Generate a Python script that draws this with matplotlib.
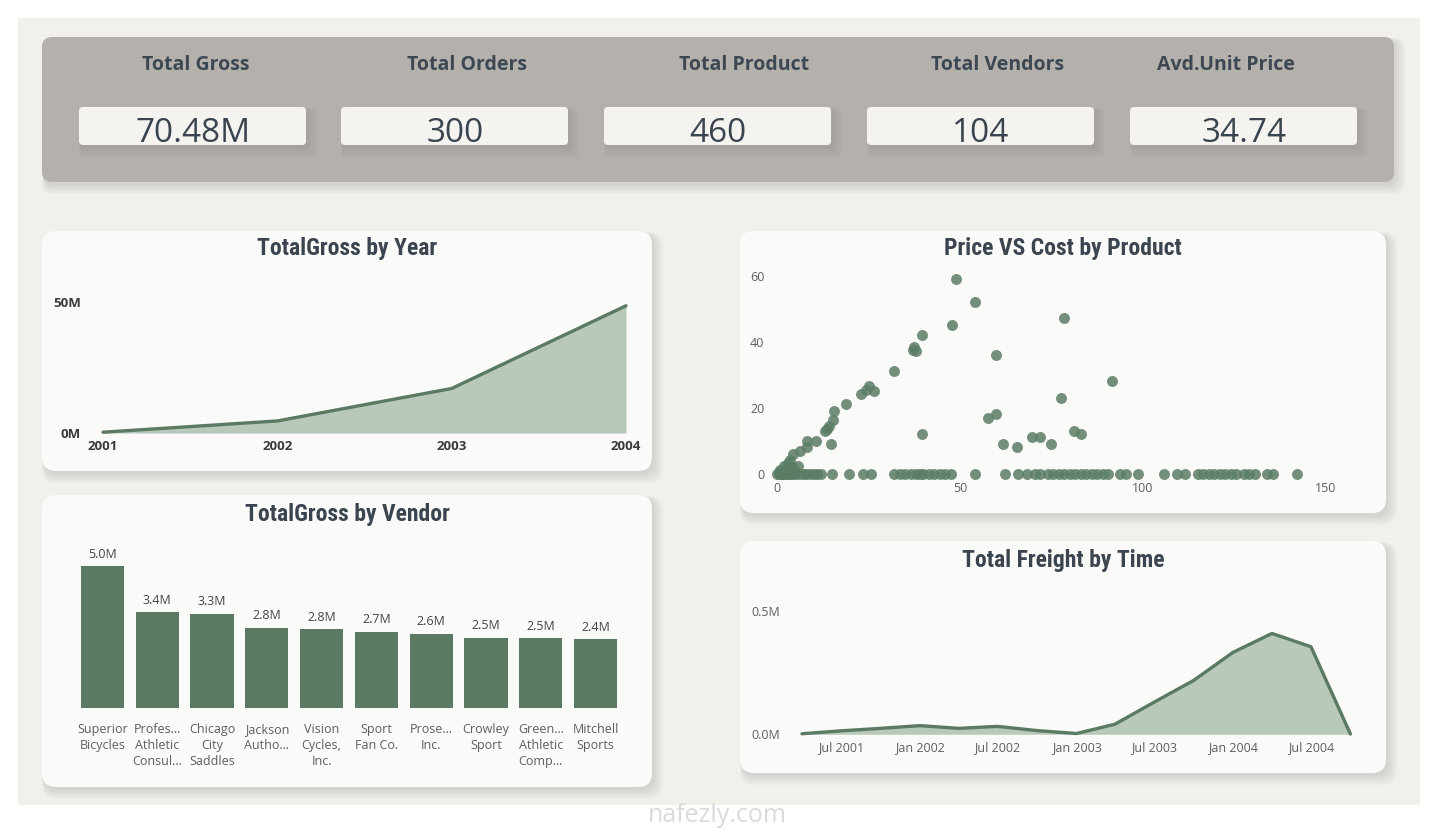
import numpy as np
import matplotlib.pyplot as plt
import matplotlib.dates as mdates
from matplotlib.patches import FancyBboxPatch
from matplotlib import font_manager
from datetime import date, timedelta

W, H = 1436, 831

kpi_titles = ['Total Gross', 'Total Orders', 'Total Product', 'Total Vendors', 'Avd.Unit Price']
kpi_values = ['70.48M', '300', '460', '104', '34.74']

years = [2001, 2002, 2003, 2004]
gross_by_year = [0.3, 4.6, 17.0, 48.6]  # millions

vendors = ['Superior\nBicycles', 'Profes…\nAthletic\nConsul…', 'Chicago\nCity\nSaddles',
           'Jackson\nAutho…', 'Vision\nCycles,\nInc.', 'Sport\nFan Co.', 'Prose…\nInc.',
           'Crowley\nSport', 'Green…\nAthletic\nComp…', 'Mitchell\nSports']
vendor_gross = [5.0, 3.38, 3.33, 2.82, 2.78, 2.68, 2.61, 2.47, 2.46, 2.43]  # millions

# price vs cost points
pts_x = [48.8, 54.0, 47.8, 39.7, 37.5, 38.0, 37.3, 32.1, 59.8, 78.5, 91.6, 77.7,
         25.2, 26.5, 23.0, 24.3, 18.9, 15.6, 15.3, 14.2, 13.0, 13.6, 14.7, 39.7,
         57.7, 59.8, 61.7, 65.7, 69.8, 71.9, 75.0, 81.1, 83.0, 10.6, 8.3, 8.3,
         6.3, 4.4, 3.5, 2.9, 1.8, 0.9, 5.7, 4.1, 4.7, 0.5, 2.2, 3.0]
pts_y = [59.2, 52.2, 45.2, 42.2, 38.5, 37.2, 37.7, 31.1, 36.2, 47.2, 28.1, 23.1,
         26.6, 25.1, 24.2, 25.4, 21.2, 19.2, 16.3, 14.4, 13.1, 13.6, 9.1, 12.1,
         17.0, 18.2, 9.1, 8.1, 11.1, 11.1, 9.1, 13.1, 12.1, 10.1, 10.1, 8.1,
         7.1, 6.1, 4.3, 3.3, 2.3, 1.3, 2.3, 2.1, 1.3, 0.6, 1.0, 2.0]
zero_x = [0, 0.5, 1, 1.5, 2, 2.5, 3, 3.5, 4, 5, 6, 7, 8, 9, 10, 11, 12, 15, 19.8,
          23.6, 25.6, 32, 33.5, 35, 36.5, 38, 39, 40, 41.5, 43, 44.5, 46, 47.5, 54,
          62.4, 65.9, 68.4, 70.5, 72, 74, 75.5, 77, 78.5, 80, 81.5, 83, 84.5, 86,
          87.5, 89, 90.5, 93.7, 95.5, 98.7, 105.8, 109.4, 111.4, 115, 116.5, 118,
          119.5, 121, 122.5, 124, 125.5, 127.5, 129, 130.5, 134, 135.5, 142]

freight_dates = [date(2001, 4, 1), date(2001, 7, 1), date(2001, 10, 1), date(2002, 1, 1),
                 date(2002, 4, 1), date(2002, 7, 1), date(2002, 10, 1), date(2003, 1, 1),
                 date(2003, 4, 1), date(2003, 7, 1), date(2003, 10, 1), date(2004, 1, 1),
                 date(2004, 4, 1), date(2004, 7, 1), date(2004, 10, 1)]
freight = [0.002, 0.014, 0.024, 0.035, 0.024, 0.032, 0.015, 0.003,
           0.041, 0.130, 0.218, 0.332, 0.409, 0.355, 0.001]  # millions

GREEN = '#5B7A63'
FILL = '#B8C8BB'
TITLE_C = '#3B4550'
TICK_C = '#605E5C'
BODY_FONT = ['Open Sans', 'DejaVu Sans']

# narrow bold face for the visual titles, whichever is installed
installed = {f.name for f in font_manager.fontManager.ttflist}
TITLE_FONT = [f for f in ['Roboto Condensed', 'Liberation Sans Narrow', 'Roboto'] if f in installed]
TITLE_FONT = TITLE_FONT + ['DejaVu Sans']

plt.rcParams['font.family'] = BODY_FONT

fig = plt.figure(figsize=(W / 100, H / 100), dpi=100, facecolor='white')
bg = fig.add_axes([0, 0, 1, 1], zorder=0)
bg.set_xlim(0, W)
bg.set_ylim(H, 0)
bg.axis('off')


def box(x0, y0, x1, y1, color, r=12, shadow=True):
    if shadow:
        for k in range(7):
            bg.add_patch(FancyBboxPatch((x0 + 2 + k * 0.6, y0 + 3 + k * 0.6), x1 - x0, y1 - y0,
                                        boxstyle='round,pad=%g,rounding_size=%g' % (k * 0.9, r),
                                        fc='#7a7a7a', ec='none', alpha=0.035))
    bg.add_patch(FancyBboxPatch((x0, y0), x1 - x0, y1 - y0,
                                boxstyle='round,pad=0,rounding_size=%g' % r,
                                fc=color, ec='none'))


bg.add_patch(FancyBboxPatch((18, 18), 1402, 787, boxstyle='square,pad=0', fc='#F2F0EB', ec='none'))

# KPI strip
box(42, 37, 1394, 182, '#B4B0AC', r=10)
card_x = [79, 341, 604, 867, 1130]
title_cx = [196, 467, 744, 998, 1226]
for i in range(5):
    box(card_x[i], 107, card_x[i] + 227, 145, '#F5F3EF', r=4)
    bg.text(title_cx[i], 65, kpi_titles[i], ha='center', va='center', fontsize=14,
            fontweight='bold', color='#3D4852')
    bg.text(card_x[i] + 114, 133, kpi_values[i], ha='center', va='center', fontsize=24,
            color='#3A444E')

# chart panels
panels = [(42, 231, 652, 471), (42, 495, 652, 787), (740, 231, 1386, 513), (740, 541, 1386, 773)]
titles = ['TotalGross by Year', 'TotalGross by Vendor', 'Price VS Cost by Product', 'Total Freight by Time']
title_y = [249, 514, 249, 560]
for (x0, y0, x1, y1), t, ty in zip(panels, titles, title_y):
    box(x0, y0, x1, y1, '#FAFAF8', r=14)
    bg.text((x0 + x1) / 2, ty, t, ha='center', va='center', fontsize=17, fontweight='bold',
            color=TITLE_C, family=TITLE_FONT)

bg.text(717, 815, 'nafezly.com', ha='center', va='center', fontsize=18, color='#DADADA')


def px_axes(x0, y0, x1, y1):
    a = fig.add_axes([x0 / W, 1 - y1 / H, (x1 - x0) / W, (y1 - y0) / H], zorder=2)
    a.set_facecolor('none')
    for s in a.spines.values():
        s.set_visible(False)
    a.tick_params(length=0)
    return a


# TotalGross by Year
ax1 = px_axes(103, 289, 626, 433)
ax1.fill_between(years, gross_by_year, 0, color=FILL, lw=0)
ax1.plot(years, gross_by_year, color=GREEN, lw=2.4, clip_on=False, solid_capstyle='round')
ax1.set_xlim(2001, 2004)
ax1.set_ylim(0, 55)
ax1.set_xticks(years)
ax1.set_xticklabels([str(y) for y in years], fontweight='bold', fontsize=9.5, color='#3A3A3A')
ax1.set_yticks([0, 50])
ax1.set_yticklabels(['0M', '50M'], fontweight='bold', fontsize=9.5, color='#3A3A3A')
ax1.tick_params(axis='x', pad=5)
ax1.tick_params(axis='y', pad=16)

# TotalGross by Vendor
ax2 = px_axes(75, 552, 623, 708)
xs = np.arange(len(vendors))
ax2.bar(xs, vendor_gross, width=0.785, color=GREEN)
for x, v in zip(xs, vendor_gross):
    ax2.annotate('%.1fM' % v, (x, v), xytext=(0, 4), textcoords='offset points',
                 ha='center', va='bottom', fontsize=9, color='#444444')
ax2.set_xlim(-0.5, len(vendors) - 0.5)
ax2.set_ylim(0, 5.5)
ax2.set_yticks([])
ax2.set_xticks(xs)
ax2.set_xticklabels(vendors, fontsize=9, color=TICK_C, linespacing=1.3, va='top')
ax2.tick_params(axis='x', pad=11)

# Price VS Cost by Product
ax3 = px_axes(770, 268, 1360, 478)
ax3.scatter(pts_x + zero_x, pts_y + [0] * len(zero_x), s=62, color='#5B7D66',
            alpha=0.85, lw=0, clip_on=False)
ax3.set_xlim(-1.9, 159.3)
ax3.set_ylim(-1.2, 62.4)
ax3.set_xticks([0, 50, 100, 150])
ax3.set_yticks([0, 20, 40, 60])
ax3.tick_params(labelsize=9, labelcolor=TICK_C)
ax3.tick_params(axis='x', pad=3)
ax3.tick_params(axis='y', pad=4)

# Total Freight by Time
ax4 = px_axes(790, 600, 1362, 736)
ax4.fill_between(freight_dates, freight, 0, color=FILL, lw=0)
ax4.plot(freight_dates, freight, color=GREEN, lw=2.4, clip_on=False, solid_capstyle='round')
ax4.set_xlim(date(2001, 4, 1) - timedelta(days=28), date(2004, 10, 1) + timedelta(days=27))
ax4.set_ylim(-0.007, 0.5446)
ticks = [date(2001, 7, 1), date(2002, 1, 1), date(2002, 7, 1), date(2003, 1, 1),
         date(2003, 7, 1), date(2004, 1, 1), date(2004, 7, 1)]
ax4.set_xticks(ticks)
ax4.xaxis.set_major_formatter(mdates.DateFormatter('%b %Y'))
ax4.set_yticks([0, 0.5])
ax4.set_yticklabels(['0.0M', '0.5M'])
ax4.tick_params(labelsize=9, labelcolor=TICK_C)
ax4.tick_params(axis='x', pad=4)
ax4.tick_params(axis='y', pad=7)

fig.savefig('out.png', dpi=100, facecolor='white')
